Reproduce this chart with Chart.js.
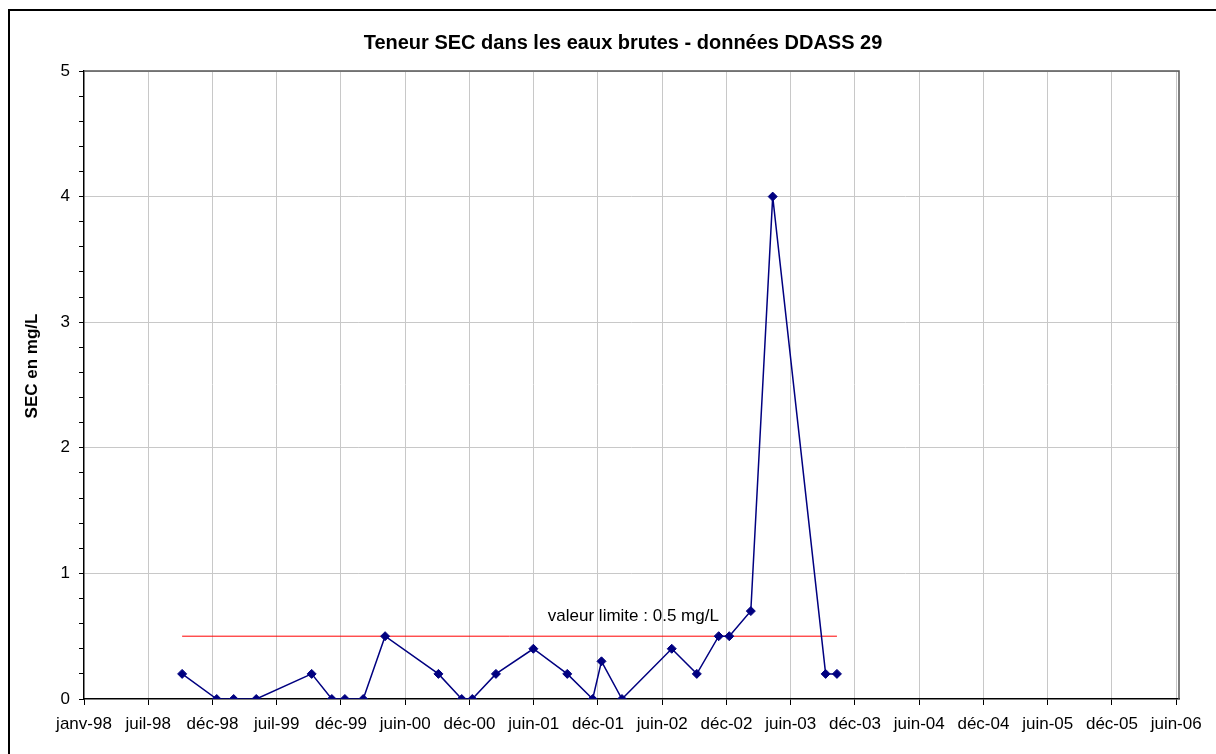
<!DOCTYPE html>
<html>
<head>
<meta charset="utf-8">
<script src="https://cdn.jsdelivr.net/npm/chart.js@4.4.1/dist/chart.umd.min.js"></script>
<style>
  html, body { margin: 0; padding: 0; background: #fff; }
</style>
</head>
<body>
<canvas id="secChart" width="1216" height="754"></canvas>
<script>
// sampling dates and SEC values (mg/L)
const sampleDates = [
    "1998-10-06", "1999-01-12", "1999-03-01", "1999-05-04", "1999-10-08",
    "1999-12-04", "2000-01-10", "2000-03-02", "2000-05-03", "2000-10-01",
    "2000-12-06", "2001-01-05", "2001-03-13", "2001-06-27", "2001-10-01",
    "2001-12-12", "2002-01-06", "2002-03-05", "2002-07-24", "2002-10-03",
    "2002-12-04", "2003-01-03", "2003-03-05", "2003-05-06", "2003-10-03",
    "2003-11-04"
];
const secValues = [
    0.2, 0, 0, 0, 0.2,
    0, 0, 0, 0.5, 0.2,
    0, 0, 0.2, 0.4, 0.2,
    0, 0.3, 0, 0.4, 0.2,
    0.5, 0.5, 0.7, 4, 0.2,
    0.2
];

// limit line
const limitDates = ["1998-10-06", "2003-11-04"];
const limitValues = [0.5, 0.5];
const limitLabel = "valeur limite : 0.5 mg/L";

const chartTitle = "Teneur SEC dans les eaux brutes - données DDASS 29";
const yTitle = "SEC en mg/L";

// axis ticks
const xTickLabels = [
    "janv-98", "juil-98", "déc-98", "juil-99", "déc-99", "juin-00",
    "déc-00", "juin-01", "déc-01", "juin-02", "déc-02", "juin-03",
    "déc-03", "juin-04", "déc-04", "juin-05", "déc-05", "juin-06"
];
const xTickStepDays = 182;
const yMin = 0;
const yMax = 5;
const yMinorStep = 0.2;

const DAY0 = Date.UTC(1998, 0, 1);
const FONT = "Arial, 'Liberation Sans', sans-serif";

function dayIndex(str) {
    const p = str.split("-");
    return Math.round((Date.UTC(+p[0], +p[1] - 1, +p[2]) - DAY0) / 86400000);
}

function isWhole(v) {
    return Math.abs(v - Math.round(v)) < 1e-6;
}

const secPoints = sampleDates.map((d, i) => ({ x: dayIndex(d), y: secValues[i] }));
const limitPoints = limitDates.map((d, i) => ({ x: dayIndex(d), y: limitValues[i] }));

Chart.defaults.font.family = FONT;
Chart.defaults.color = "#000";

// frame, outer border, titles and limit label
const decorPlugin = {
    id: "decor",
    afterDraw(chart) {
        const ctx = chart.ctx;
        const a = chart.chartArea;
        const xs = chart.scales.x;
        const ys = chart.scales.y;

        ctx.save();

        // plot area top / right edges
        ctx.strokeStyle = "#555";
        ctx.lineWidth = 1.5;
        ctx.beginPath();
        ctx.moveTo(a.left, a.top);
        ctx.lineTo(a.right, a.top);
        ctx.lineTo(a.right, a.bottom);
        ctx.stroke();

        // outer border
        ctx.strokeStyle = "#000";
        ctx.lineWidth = 2;
        ctx.strokeRect(9, 10, 1220, 760);

        ctx.fillStyle = "#000";

        // chart title
        ctx.font = "bold 20px " + FONT;
        ctx.textAlign = "center";
        ctx.textBaseline = "middle";
        ctx.fillText(chartTitle, 623, 43);

        // limit label
        ctx.font = "17px " + FONT;
        ctx.textAlign = "left";
        ctx.textBaseline = "alphabetic";
        ctx.fillText(limitLabel, xs.getPixelForValue(1314), ys.getPixelForValue(0.62));

        // y axis title
        ctx.translate(32, 366);
        ctx.rotate(-Math.PI / 2);
        ctx.font = "bold 17px " + FONT;
        ctx.textAlign = "center";
        ctx.textBaseline = "middle";
        ctx.fillText(yTitle, 0, 0);

        ctx.restore();
    }
};

new Chart(document.getElementById("secChart"), {

    type: "line",

    data: {
        datasets: [
            {
                label: "SEC",
                data: secPoints,
                borderColor: "#000080",
                backgroundColor: "#000080",
                borderWidth: 1.5,
                pointStyle: "rectRot",
                pointRadius: 4.5,
                pointBorderWidth: 1,
                pointBorderColor: "#000080",
                pointBackgroundColor: "#000080",
                tension: 0,
                fill: false
            },
            {
                label: "limite",
                data: limitPoints,
                borderColor: "#ff0000",
                borderWidth: 1,
                pointRadius: 0,
                tension: 0,
                fill: false
            }
        ]
    },

    options: {
        responsive: false,
        animation: false,

        layout: {
            padding: { left: 30, right: 37, top: 71, bottom: 0 }
        },

        plugins: {
            legend: { display: false },
            tooltip: { enabled: false },
            title: { display: false }
        },

        scales: {
            x: {
                type: "linear",
                min: 0,
                max: 3102,
                afterFit(scale) { scale.height = 55; },
                afterBuildTicks(scale) {
                    scale.ticks = xTickLabels.map((l, i) => ({ value: i * xTickStepDays }));
                },
                border: { color: "#000", width: 1.5 },
                grid: {
                    color: ctx => (ctx.tick && ctx.tick.value === 0) ? "rgba(0,0,0,0)" : "#c8c8c8",
                    tickColor: "#000",
                    tickLength: 6,
                    lineWidth: 1
                },
                ticks: {
                    autoSkip: false,
                    maxRotation: 0,
                    padding: 9,
                    font: { size: 17 },
                    callback: (value, index) => xTickLabels[index]
                }
            },
            y: {
                min: yMin,
                max: yMax,
                afterFit(scale) { scale.width = 54; },
                border: { color: "#000", width: 1.5 },
                grid: {
                    color: ctx => (ctx.tick && isWhole(ctx.tick.value) && ctx.tick.value > 0) ? "#c8c8c8" : "rgba(0,0,0,0)",
                    tickColor: "#000",
                    tickLength: 5,
                    lineWidth: 1
                },
                ticks: {
                    stepSize: yMinorStep,
                    autoSkip: false,
                    padding: 9,
                    font: { size: 17 },
                    callback: value => isWhole(value) ? String(Math.round(value)) : ""
                }
            }
        }
    },

    plugins: [decorPlugin]
});
</script>
</body>
</html>
